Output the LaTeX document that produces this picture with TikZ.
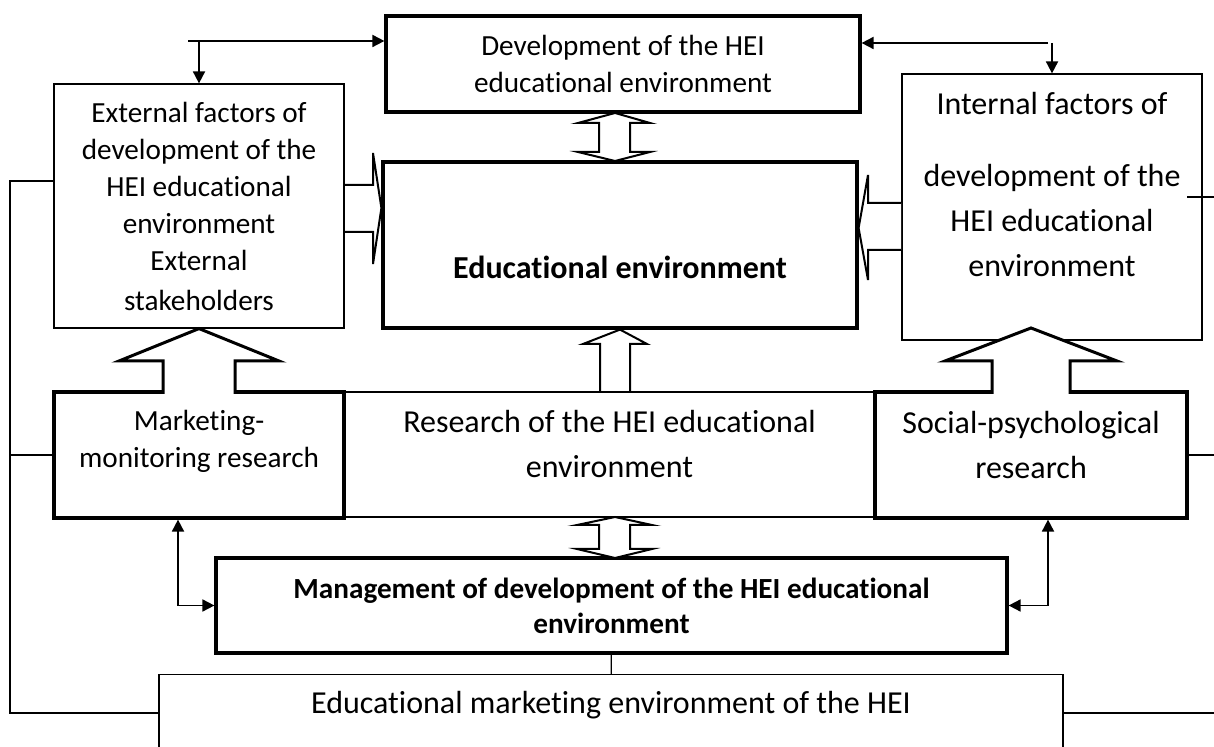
\documentclass[tikz,border=0pt]{standalone}
\usepackage{fontspec}
\setmainfont[Ligatures={NoCommon}, RawFeature={-calt;-liga;-dlig}]{Carlito}
\usetikzlibrary{arrows.meta}

\begin{document}
\begin{tikzpicture}[x=0.5pt, y=-0.5pt]

\tikzstyle{every node} = [rectangle, draw, fill=white, align=center, inner sep=0pt]
\tikzstyle{heavy} = [line width=1.6pt]
\tikzstyle{light} = [line width=0.6pt]
\tikzstyle{smalltext} = [font=\fontsize{14.6}{18.5}\selectfont]
\tikzstyle{bigtext} = [font=\fontsize{16}{22.5}\selectfont]
\tikzstyle{hollow} = [draw, fill=white, line width=1pt, line join=miter]
\tikzstyle{wire} = [line width=0.6pt]
\tikzstyle{link} = [line width=0.9pt, -{Triangle[length=6pt,width=6pt]}]
\tikzstyle{biarrow} = [line width=0.9pt, {Triangle[length=6pt,width=6pt]}-{Triangle[length=6pt,width=6pt]}]

\clip (0,0) rectangle (1214,747);

\node[heavy, smalltext, minimum width=237pt, minimum height=48pt] (top) at (623,64) {Development of the HEI\\educational environment};
\node[light, smalltext, minimum width=145pt, minimum height=122pt] (ext) at (199,206) {External factors of\\development of the\\HEI educational\\environment\\External\\[1.5pt]stakeholders};
\node[heavy, font={\fontsize{16}{22.5}\selectfont\bfseries}, text height=34pt, text depth=0pt, minimum width=237pt, minimum height=83pt] (edu) at (620,245) {Educational environment};
\node[light, bigtext, minimum width=150pt, minimum height=133pt] (int) at (1052,207) {Internal factors of\\[13.5pt]development of the\\HEI educational\\environment\\ \mbox{}};

\node[light, bigtext, minimum width=265.5pt, minimum height=62.5pt] (res) at (609.5,454.5) {Research of the HEI educational\\environment\\[-12pt]\mbox{}};
\node[heavy, smalltext, minimum width=145pt, minimum height=63pt] (mkt) at (199,455) {Marketing-\\monitoring research\\[-2pt]\mbox{}};
\node[heavy, bigtext, minimum width=156pt, minimum height=63pt] (soc) at (1031,455) {Social-psychological\\research\\[-12pt]\mbox{}};

\node[heavy, font={\fontsize{14.6}{17.5}\selectfont\bfseries}, minimum width=395.5pt, minimum height=47.5pt] (mgmt) at (611.5,605.5) {Management of development of the HEI educational\\environment};
\node[light, bigtext, anchor=north, minimum width=452pt, text height=19.25pt, text depth=40pt] (env) at (611,674) {Educational marketing environment of the HEI};

\coordinate (tl) at (188,41);
\coordinate (tr) at (1048,43);
\coordinate (railtop) at (10,181);
\coordinate (railbot) at (10,713);
\coordinate (edge) at (1214,455);

\draw[link] (tl) -- ([yshift=11.5pt]top.west);
\draw[link] (ext.north |- tl) -- (ext.north);
\draw[link] (tr) -- ([yshift=10.5pt]top.east);
\draw[link] (int.north |- tr) -- (int.north);

\draw[hollow] (345,185) -- (373,185) -- (373,153) -- (edu.west |- 0,208) -- (373,264) -- (373,232) -- (345,232);
\draw[hollow] (901,203) -- (868,203) -- (868,175) -- (edu.east |- 0,228) -- (868,280) -- (868,250) -- (901,250);
\draw[hollow] (615,113) -- (650,123) -- (630,123) -- (630,152) -- (650,152) -- (615,161) -- (578,152) -- (599,152) -- (599,123) -- (578,123) -- cycle;
\draw[hollow] (600,391) -- (600,344) -- (583,344) -- (edu.south) -- (647,344) -- (630,344) -- (630,391);
\draw[hollow] (615,517) -- (652,525) -- (630,525) -- (630,549) -- (652,549) -- (615,558) -- (577,549) -- (599,549) -- (599,525) -- (577,525) -- cycle;
\draw[hollow, line width=1.5pt] (163,394) -- (163,361) -- (119,361) -- (ext.south) -- (279,361) -- (235,361) -- (235,394);
\draw[hollow, line width=1.5pt] (992,394) -- (992,361) -- (945,361) -- (1031,328) -- (1117,361) -- (1070,361) -- (1070,394);

\draw[biarrow] ([xshift=-10.5pt]mkt.south) |- (mgmt.west);
\draw[biarrow] ([xshift=8.5pt]soc.south) |- (mgmt.east);

\draw[wire] (ext.west |- railtop) -- (railtop) -- (railbot) -- (env.west |- railbot);
\draw[wire] (mkt.west) -- (mkt.west -| railtop);
\draw[wire] (soc.east) -- (edge);
\draw[wire] (env.east |- railbot) -- (edge |- railbot);
\draw[wire] (1187,197) -- (edge |- 0,197);
\draw[wire] (mgmt) -- (env);

\end{tikzpicture}
\end{document}
